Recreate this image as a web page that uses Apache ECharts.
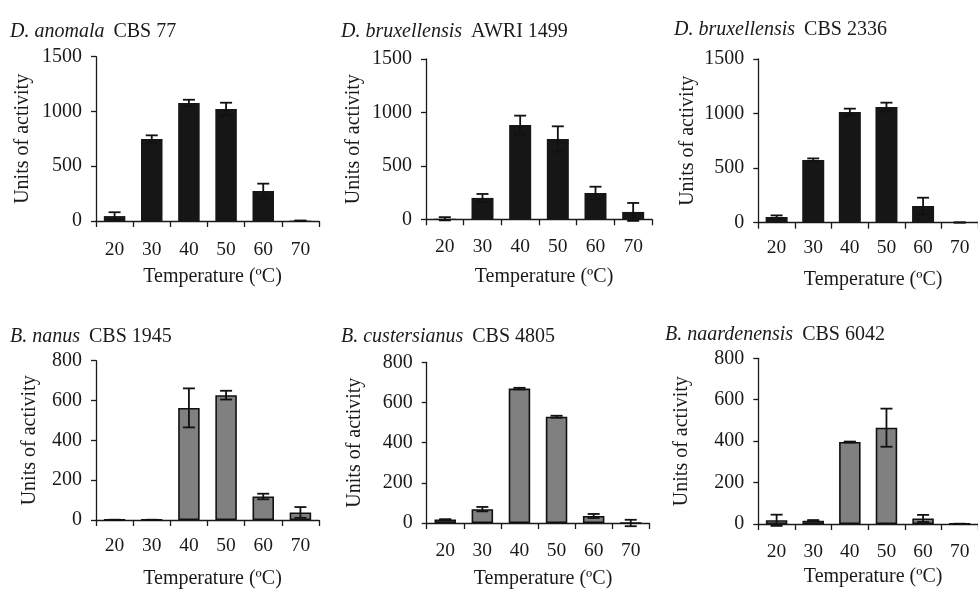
<!DOCTYPE html>
<html>
<head>
<meta charset="utf-8">
<script src="https://cdn.jsdelivr.net/npm/echarts@6/dist/echarts.min.js"></script>
<style>
  html, body { margin: 0; padding: 0; background: #fff; }
  #chart { width: 978px; height: 590px; }
</style>
</head>
<body>
<div id="chart"></div>
<script>
// Temperature categories (°C)
const temps = ['20', '30', '40', '50', '60', '70'];

// Mean activity and standard error per strain
const anomalaMean = [45, 748, 1077, 1022, 274, 3];
const anomalaErr = [35, 34, 30, 58, 67, 0];
const awriMean = [5, 200, 882, 752, 246, 69];
const awriErr = [15, 37, 88, 118, 59, 84];
const cbs2336Mean = [52, 574, 1014, 1060, 153, 2];
const cbs2336Err = [15, 15, 31, 40, 76, 0];
const nanusMean = [1, 1, 563, 627, 118, 38];
const nanusErr = [0, 0, 98, 22, 14, 27];
const custersianusMean = [17, 69, 669, 529, 35, 0];
const custersianusErr = [2, 11, 4, 5, 10, 16];
const naardenensisMean = [18, 16, 396, 465, 27, 1];
const naardenensisErr = [27, 3, 2, 92, 17, 0];

// Species / strain labels
const speciesNames = ['D. anomala', 'D. bruxellensis', 'D. bruxellensis', 'B. nanus', 'B. custersianus', 'B. naardenensis'];
const strainNames = ['CBS 77', 'AWRI 1499', 'CBS 2336', 'CBS 1945', 'CBS 4805', 'CBS 6042'];

// Y axis ranges (Dekkera row, Brettanomyces row)
const yMaxTop = 1500, yStepTop = 500;
const yMaxBottom = 800, yStepBottom = 200;

const means = [anomalaMean, awriMean, cbs2336Mean, nanusMean, custersianusMean, naardenensisMean];
const errs = [anomalaErr, awriErr, cbs2336Err, nanusErr, custersianusErr, naardenensisErr];

// Panel geometry
const panels = [
  { left: 96,    top: 56.7,  width: 223, height: 164.3, tx: 10,  ty: 22, lm: 19,   xg: 46,   yg: 63,   bw: 21.5 },
  { left: 426,   top: 59,    width: 226, height: 160.3, tx: 341, ty: 22, lm: 17.5, xg: 47.5, yg: 62,   bw: 22 },
  { left: 758.3, top: 59,    width: 227, height: 163.7, tx: 674, ty: 20, lm: 15.5, xg: 47.5, yg: 61,   bw: 22 },
  { left: 96,    top: 360.7, width: 223, height: 160,   tx: 10,  ty: 327, lm: 16,  xg: 49,   yg: 56,   bw: 21.5 },
  { left: 426.7, top: 362.3, width: 222.6, height: 161.4, tx: 341, ty: 327, lm: 18, xg: 46,   yg: 62,   bw: 21.5 },
  { left: 758.3, top: 358.3, width: 223, height: 165.7, tx: 665, ty: 325, lm: 17.5, xg: 42.5, yg: 67,   bw: 21.5 }
];

const FONT = 'Liberation Serif';
const INK = '#1a1a1a';

const grid = [], xAxis = [], yAxis = [], series = [], title = [];

panels.forEach(function (p, i) {
  const isTop = i < 3;
  grid.push({ left: p.left, top: p.top, width: p.width, height: p.height, containLabel: false });
  title.push({
    left: p.tx, top: p.ty, padding: 0,
    text: '{i|' + speciesNames[i] + '}{r|' + strainNames[i] + '}',
    textStyle: {
      fontWeight: 'normal',
      rich: {
        i: { fontFamily: FONT, fontStyle: 'italic', fontWeight: 'normal', fontSize: 20, color: INK },
        r: { fontFamily: FONT, fontWeight: 'normal', fontSize: 20, color: INK, padding: [0, 0, 0, 9] }
      }
    }
  });
  xAxis.push({
    type: 'category', gridIndex: i, data: temps,
    name: 'Temperature (ºC)', nameLocation: 'middle', nameGap: p.xg,
    nameTextStyle: { fontFamily: FONT, fontSize: 20, color: INK, padding: [0, 0, 0, 10] },
    axisLine: { lineStyle: { color: INK, width: 1.3 } },
    axisTick: { show: true, length: 6, lineStyle: { color: INK, width: 1.3 } },
    axisLabel: { fontFamily: FONT, fontSize: 19.5, color: INK, margin: p.lm },
    splitLine: { show: false }
  });
  yAxis.push({
    type: 'value', gridIndex: i, min: 0,
    max: isTop ? yMaxTop : yMaxBottom,
    interval: isTop ? yStepTop : yStepBottom,
    name: 'Units of activity', nameLocation: 'middle', nameGap: p.yg,
    nameTextStyle: { fontFamily: FONT, fontSize: 20, color: INK },
    axisLine: { show: true, lineStyle: { color: INK, width: 1.3 } },
    axisTick: { show: true, length: 5, lineStyle: { color: INK, width: 1.3 } },
    axisLabel: {
      fontFamily: FONT, fontSize: 20, color: INK, margin: 14,
      formatter: function (v) { return String(v); }
    },
    splitLine: { show: false }
  });
  series.push({
    type: 'bar', xAxisIndex: i, yAxisIndex: i,
    data: means[i], barWidth: p.bw,
    itemStyle: isTop
      ? { color: '#161616' }
      : { color: '#808080', borderColor: '#111', borderWidth: 1.6 },
    silent: true, animation: false
  });
  // Error bars: vertical stem with caps at mean ± error
  series.push({
    type: 'custom', xAxisIndex: i, yAxisIndex: i, z: 5,
    data: means[i].map(function (m, k) { return [k, m, errs[i][k]]; }),
    renderItem: function (params, api) {
      const k = api.value(0), m = api.value(1), e = api.value(2);
      const hi = api.coord([k, m + e]);
      const lo = api.coord([k, m - e]);
      const half = 6;
      const style = { stroke: '#111', lineWidth: 1.8, fill: null };
      return {
        type: 'group',
        children: [
          { type: 'line', shape: { x1: hi[0], y1: hi[1], x2: lo[0], y2: lo[1] }, style: style },
          { type: 'line', shape: { x1: hi[0] - half, y1: hi[1], x2: hi[0] + half, y2: hi[1] }, style: style },
          { type: 'line', shape: { x1: lo[0] - half, y1: lo[1], x2: lo[0] + half, y2: lo[1] }, style: style }
        ]
      };
    },
    silent: true, animation: false
  });
});

const chart = echarts.init(document.getElementById('chart'), null, { renderer: 'canvas' });
chart.setOption({
  backgroundColor: '#fff',
  animation: false,
  title: title,
  grid: grid,
  xAxis: xAxis,
  yAxis: yAxis,
  series: series
});
</script>
</body>
</html>
